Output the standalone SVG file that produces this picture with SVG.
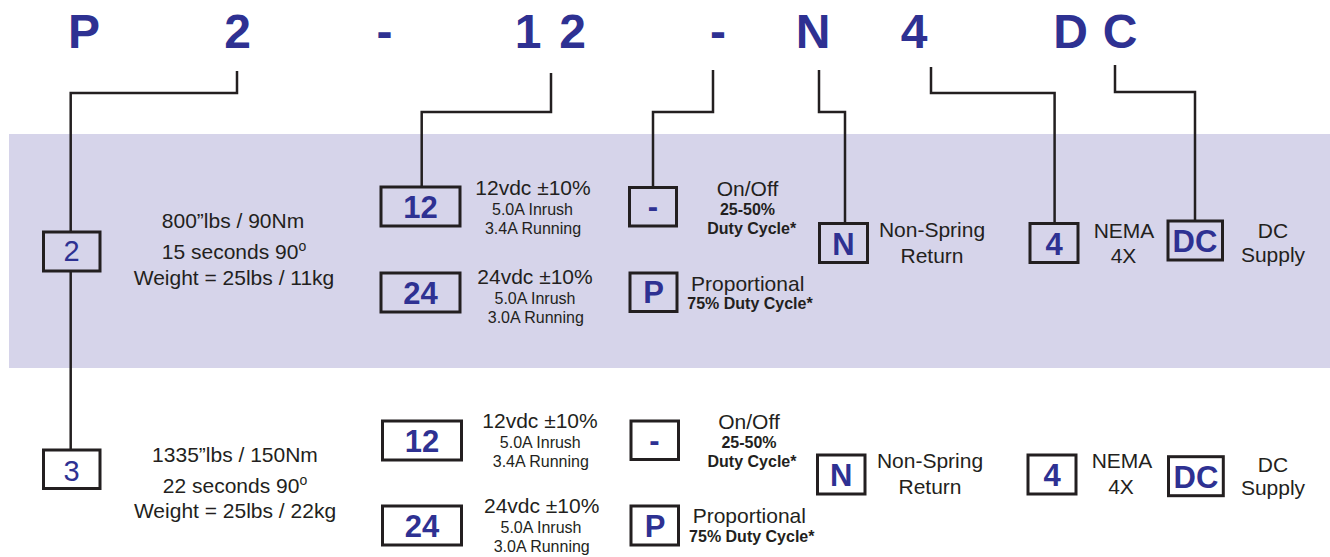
<svg xmlns="http://www.w3.org/2000/svg" width="1330" height="557" viewBox="0 0 1330 557">
<style>
.code{font-family:"Liberation Sans",Arial,sans-serif;font-weight:bold;font-size:48px;fill:#2e3192;text-anchor:middle}
.bx{fill:none;stroke:#231f20;stroke-width:3}
.bl{font-family:"Liberation Sans",Arial,sans-serif;font-weight:bold;font-size:31px;fill:#2e3192;text-anchor:middle}
.bn{font-family:"Liberation Sans",Arial,sans-serif;font-size:29px;fill:#2e3192;text-anchor:middle}
.t{font-family:"Liberation Sans",Arial,sans-serif;font-size:21px;fill:#231f20;text-anchor:middle}
.s{font-family:"Liberation Sans",Arial,sans-serif;font-size:16px;fill:#231f20;text-anchor:middle}
.sb{font-family:"Liberation Sans",Arial,sans-serif;font-size:16px;font-weight:bold;fill:#231f20;text-anchor:middle}
.ln{fill:none;stroke:#231f20;stroke-width:2.5}
</style>
<rect x="9" y="134" width="1321" height="234" fill="#d6d4ea"/>
<g id="code">
<text class="code" x="84" y="48">P</text>
<text class="code" x="237.5" y="48">2</text>
<text class="code" x="384.5" y="48">-</text>
<text class="code" x="528" y="48">1</text>
<text class="code" x="572.5" y="48">2</text>
<text class="code" x="718" y="48">-</text>
<text class="code" x="813" y="48">N</text>
<text class="code" x="914" y="48">4</text>
<text class="code" x="1070.5" y="48">D</text>
<text class="code" x="1120" y="48">C</text>
</g>
<g id="connectors">
<polyline class="ln" points="237,71 237,93 70.7,93 70.7,232"/>
<line class="ln" x1="70.7" y1="271" x2="70.7" y2="450"/>
<polyline class="ln" points="551,73 551,112 421.7,112 421.7,187"/>
<polyline class="ln" points="713,70 713,112 653,112 653,187.5"/>
<polyline class="ln" points="819,70 819,112 845,112 845,223.5"/>
<polyline class="ln" points="931,67 931,93 1054.6,93 1054.6,223.5"/>
<polyline class="ln" points="1115,65 1115,92 1195,92 1195,221"/>
</g>
<g id="size2">
<rect class="bx" x="43.5" y="232" width="56.5" height="39"/>
<text class="bn" x="71.5" y="261">2</text>
<text class="t" x="233" y="228">800”lbs / 90Nm</text>
<text class="t" x="234" y="259">15 seconds 90<tspan font-size="14" dy="-8">o</tspan></text>
<text class="t" x="234" y="285">Weight = 25lbs / 11kg</text>
</g>
<g id="v12a">
<rect class="bx" x="381" y="187" width="79" height="39"/>
<text class="bl" x="420.5" y="217.8">12</text>
<text class="t" x="533" y="195">12vdc ±10%</text>
<text class="s" x="532.5" y="215">5.0A Inrush</text>
<text class="s" x="533" y="234">3.4A Running</text>
</g>
<g id="v24a">
<rect class="bx" x="381" y="273" width="79" height="39"/>
<text class="bl" x="420.5" y="303.8">24</text>
<text class="t" x="535" y="284">24vdc ±10%</text>
<text class="s" x="535" y="304">5.0A Inrush</text>
<text class="s" x="535.8" y="323">3.0A Running</text>
</g>
<g id="onoffa">
<rect class="bx" x="629.5" y="187.5" width="47" height="38.5"/>
<text class="bl" x="653" y="216.7">-</text>
<text class="t" x="747.5" y="195.7">On/Off</text>
<text class="sb" x="747.5" y="215">25-50%</text>
<text class="sb" x="751.7" y="234">Duty Cycle*</text>
</g>
<g id="propa">
<rect class="bx" x="630" y="273" width="47" height="38.5"/>
<text class="bl" x="653.5" y="302.7">P</text>
<text class="t" x="747.7" y="291">Proportional</text>
<text class="sb" x="750" y="309">75% Duty Cycle*</text>
</g>
<g id="nsra">
<rect class="bx" x="819.5" y="223.5" width="48" height="39"/>
<text class="bl" x="843.5" y="254.5">N</text>
<text class="t" x="932" y="237.3">Non-Spring</text>
<text class="t" x="932" y="262.7">Return</text>
</g>
<g id="nemaa">
<rect class="bx" x="1030" y="223.5" width="48" height="39"/>
<text class="bl" x="1054" y="254.5">4</text>
<text class="t" x="1124" y="238">NEMA</text>
<text class="t" x="1123.5" y="263">4X</text>
</g>
<g id="dca">
<rect class="bx" x="1168" y="221" width="54.5" height="39"/>
<text class="bl" x="1195" y="251.7">DC</text>
<text class="t" x="1273" y="238">DC</text>
<text class="t" x="1273" y="261.7">Supply</text>
</g>
<g id="size3">
<rect class="bx" x="43.5" y="450" width="56.5" height="38.5"/>
<text class="bn" x="71.5" y="480.5">3</text>
<text class="t" x="235" y="461.7">1335”lbs / 150Nm</text>
<text class="t" x="235" y="493.3">22 seconds 90<tspan font-size="14" dy="-8">o</tspan></text>
<text class="t" x="235" y="518.3">Weight = 25lbs / 22kg</text>
</g>
<g id="v12b">
<rect class="bx" x="382.5" y="421" width="79" height="39"/>
<text class="bl" x="422" y="451.8">12</text>
<text class="t" x="540" y="428.3">12vdc ±10%</text>
<text class="s" x="540.3" y="448.3">5.0A Inrush</text>
<text class="s" x="540.8" y="466.7">3.4A Running</text>
</g>
<g id="v24b">
<rect class="bx" x="382.5" y="506" width="79" height="39"/>
<text class="bl" x="422" y="536.8">24</text>
<text class="t" x="541.7" y="513.3">24vdc ±10%</text>
<text class="s" x="541" y="533.3">5.0A Inrush</text>
<text class="s" x="541.7" y="551.7">3.0A Running</text>
</g>
<g id="onoffb">
<rect class="bx" x="631" y="421" width="47.5" height="38.5"/>
<text class="bl" x="654.5" y="450.5">-</text>
<text class="t" x="749" y="429.3">On/Off</text>
<text class="sb" x="749" y="448.3">25-50%</text>
<text class="sb" x="752" y="466.7">Duty Cycle*</text>
</g>
<g id="propb">
<rect class="bx" x="631" y="506" width="47.5" height="39"/>
<text class="bl" x="655" y="536.8">P</text>
<text class="t" x="749.3" y="523.3">Proportional</text>
<text class="sb" x="751.8" y="541.7">75% Duty Cycle*</text>
</g>
<g id="nsrb">
<rect class="bx" x="817.5" y="455" width="47.5" height="39"/>
<text class="bl" x="841.3" y="485.8">N</text>
<text class="t" x="930" y="468.3">Non-Spring</text>
<text class="t" x="930" y="494">Return</text>
</g>
<g id="nemab">
<rect class="bx" x="1028" y="455" width="48" height="39"/>
<text class="bl" x="1052" y="485.8">4</text>
<text class="t" x="1122" y="468.3">NEMA</text>
<text class="t" x="1121" y="494">4X</text>
</g>
<g id="dcb">
<rect class="bx" x="1168.5" y="456.7" width="54.8" height="39"/>
<text class="bl" x="1196" y="487.5">DC</text>
<text class="t" x="1273" y="471.7">DC</text>
<text class="t" x="1273" y="495">Supply</text>
</g>
</svg>
